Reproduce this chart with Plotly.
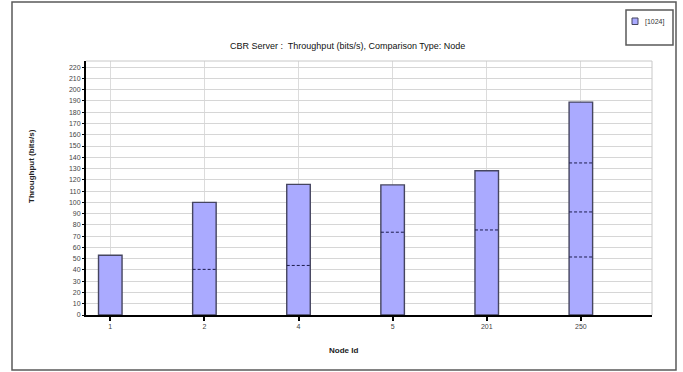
import plotly.graph_objects as go

# ---- data ----
categories = ["1", "2", "4", "5", "201", "250"]
totals = [53, 100, 116, 115.5, 128, 189]
# cumulative boundaries between stacked segments inside each bar
dividers = [[], [40.5], [44], [73.5], [75.5], [51.5, 91.5, 135]]
series_name = "[1024]"
y_ticks = list(range(0, 230, 10))

title_text = "CBR Server :  Throughput (bits/s), Comparison Type: Node"
x_title = "Node Id"
y_title = "Throughput (bits/s)"

BAR_W = 0.25
FILL = "#aaaaff"
EDGE = "#45455f"
FONT = "Liberation Sans"

# pixel helpers for paper-referenced decorations (plot area 86..652 x 61..315)
def px(x):
    return (x - 86) / 566

def py(y):
    return (315 - y) / 254

xpos = list(range(len(categories)))

fig = go.Figure()
fig.add_trace(go.Bar(
    x=xpos, y=totals, width=BAR_W, name=series_name,
    marker=dict(color=FILL, line=dict(color=EDGE, width=1.4)),
    showlegend=False, hoverinfo="y",
))

dx, dy = [], []
for i, levels in enumerate(dividers):
    for b in levels:
        dx += [i - BAR_W / 2, i + BAR_W / 2 + 0.01, None]
        dy += [b, b, None]
fig.add_trace(go.Scatter(
    x=dx, y=dy, mode="lines",
    line=dict(color="#1c1c4c", width=1, dash="3px,2px"),
    showlegend=False, hoverinfo="skip",
))

fig.update_layout(
    width=683, height=372,
    margin=dict(l=86, r=31, t=61, b=57),
    paper_bgcolor="white", plot_bgcolor="white",
    font=dict(family=FONT, size=7, color="#333"),
    showlegend=False,
    xaxis=dict(
        range=[-0.258, 5.756], tickmode="array", tickvals=xpos, ticktext=categories,
        showgrid=True, gridcolor="#dcdcdc", gridwidth=1,
        showline=True, linecolor="black", linewidth=2,
        ticks="outside", ticklen=4, tickwidth=1.5, tickcolor="black",
        tickfont=dict(family=FONT, size=7, color="#444"),
        zeroline=False, fixedrange=True,
    ),
    yaxis=dict(
        range=[0, 225.5], tickmode="array", tickvals=y_ticks,
        showgrid=True, gridcolor="#d6d6d6", gridwidth=1,
        showline=True, linecolor="black", linewidth=2,
        ticks="outside", ticklen=2, tickwidth=1, tickcolor="black",
        tickfont=dict(family=FONT, size=7, color="#444"),
        zeroline=False, fixedrange=True,
    ),
    shapes=[
        # outer frame
        dict(type="rect", xref="paper", yref="paper",
             x0=px(12), x1=px(676), y0=py(370), y1=py(2),
             line=dict(color="#5a5a5a", width=1.5)),
        # legend box
        dict(type="rect", xref="paper", yref="paper",
             x0=px(626), x1=px(673), y0=py(45), y1=py(10),
             line=dict(color="#5a5a5a", width=1.5)),
        # legend swatch
        dict(type="rect", xref="paper", yref="paper",
             x0=px(632), x1=px(638), y0=py(24.5), y1=py(18),
             fillcolor=FILL, line=dict(color=EDGE, width=1)),
        # top and right plot border
        dict(type="line", xref="paper", yref="paper", x0=0, x1=1, y0=1, y1=1,
             line=dict(color="#c8c8c8", width=1)),
        dict(type="line", xref="paper", yref="paper", x0=1, x1=1, y0=0, y1=1,
             line=dict(color="#c8c8c8", width=1)),
    ],
    annotations=[
        dict(text=series_name, xref="paper", yref="paper",
             x=px(643), y=py(21.5), showarrow=False,
             xanchor="left", yanchor="middle",
             font=dict(family=FONT, size=7, color="#333")),
        dict(text=title_text, xref="paper", yref="paper",
             x=px(347), y=py(46), showarrow=False,
             xanchor="center", yanchor="middle",
             font=dict(family=FONT, size=9, color="#111")),
        dict(text="<b>" + x_title + "</b>", xref="paper", yref="paper",
             x=px(343), y=py(350), showarrow=False,
             xanchor="center", yanchor="middle",
             font=dict(family=FONT, size=8, color="#222")),
        dict(text="<b>" + y_title + "</b>", xref="paper", yref="paper",
             x=px(31), y=py(166), showarrow=False,
             textangle=-90, xanchor="center", yanchor="middle",
             font=dict(family=FONT, size=8, color="#222")),
    ],
)

fig.write_html("out.html")
